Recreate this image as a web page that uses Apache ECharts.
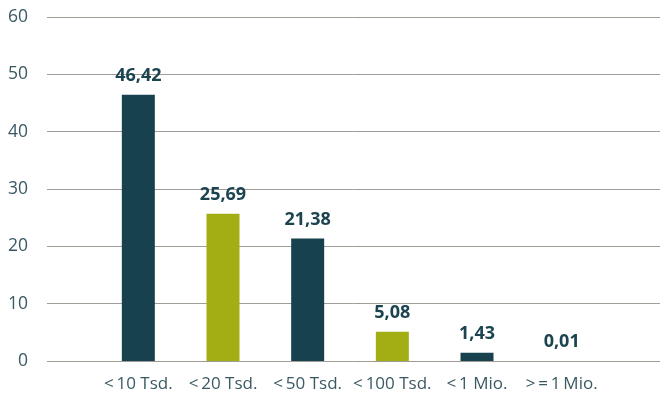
<!DOCTYPE html>
<html><head><meta charset="utf-8">
<script src="https://cdn.jsdelivr.net/npm/echarts@6/dist/echarts.min.js"></script>
<style>html,body{margin:0;padding:0;background:#fff}#c{width:660px;height:420px}</style>
</head><body><div id="c"></div>
<script>
const categories = ["<\u200910 Tsd.", "<\u200920 Tsd.", "<\u200950 Tsd.", "<\u2009100 Tsd.", "<\u20091 Mio.", ">\u2009=\u20091\u2009Mio."];
const values = [46.42, 25.69, 21.38, 5.08, 1.43, 0.01];
const colors = ["#17414e", "#a3ae14"];
const yTicks = { min: 0, max: 60, interval: 10 };

const chart = echarts.init(document.getElementById('c'));
chart.setOption({
  animation: false,
  textStyle: { fontFamily: 'Open Sans' },
  grid: [
    { left: 47, right: 0, top: 17, bottom: 59, containLabel: false },
    { left: 96, right: 56, top: 17, bottom: 59, containLabel: false }
  ],
  xAxis: [
    { gridIndex: 0, type: 'category', data: [''], show: false },
    { gridIndex: 1, type: 'category', data: categories,
      axisLine: { show: false }, axisTick: { show: false },
      axisLabel: { color: '#3a5963', fontSize: 17, margin: 15, interval: 0 } }
  ],
  yAxis: [
    { gridIndex: 0, type: 'value', min: yTicks.min, max: yTicks.max, interval: yTicks.interval,
      axisLine: { show: false }, axisTick: { show: false },
      axisLabel: { color: '#3a5963', fontSize: 17.5, margin: 19 },
      splitLine: { lineStyle: { color: '#a29c96', width: 1 } } },
    { gridIndex: 1, type: 'value', min: yTicks.min, max: yTicks.max, interval: yTicks.interval, show: false }
  ],
  series: [{
    type: 'bar', xAxisIndex: 1, yAxisIndex: 1,
    data: values.map((v, i) => ({ value: v, itemStyle: { color: colors[i % 2] } })),
    barWidth: 33,
    label: { show: true, position: 'top', distance: 10, color: '#1b4350', fontWeight: 'bold', fontSize: 18,
      formatter: p => p.value.toFixed(2).replace('.', ',') }
  }]
});
</script></body></html>
